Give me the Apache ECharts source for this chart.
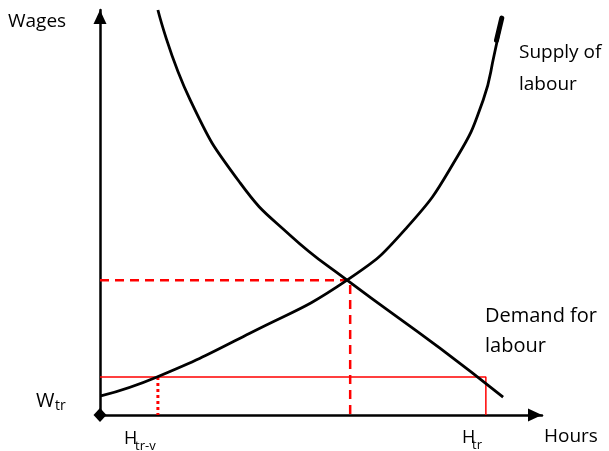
<!DOCTYPE html>
<html>
<head>
<meta charset="utf-8">
<script src="https://cdn.jsdelivr.net/npm/echarts@6/dist/echarts.min.js"></script>
<style>html,body{margin:0;padding:0;background:#fff}#c{width:609px;height:451px}</style>
</head>
<body>
<div id="c"></div>
<script>
// Data (hours on x: 0..100, wages on y: 0..100)
const supplyCurve = [[0.2,4.7],[12.9,9.4],[33.9,20.2],[55.9,33.3],[69.5,46.4],[80.8,63.7],[86.7,77.8],[89.2,89.0],[90.9,98.0]];
const supplyTop = [[89.7,92.5],[90.9,98.0]];
const demandCurve = [[13.1,100],[20.4,77.8],[31.7,57.3],[43.0,44.4],[55.9,33.3],[76.9,16.5],[91.2,4.4]];
const equilibriumWage = 33.3;
const equilibriumHours = 56.6;
const wageTr = 9.4;
const hoursTrV = 13.1;
const hoursTr = 87.3;
const axisNames = ['Hours', 'Wages'];
const curveLabels = [['Supply of', 'labour'], ['Demand for', 'labour']];
const tickLabels = [['W', 'tr'], ['H', 'tr-v'], ['H', 'tr']];

const font = '"Open Sans", "Liberation Sans", sans-serif';
function txt(x, y, text, size) {
  return { type: 'text', x: x, y: y, silent: true,
    style: { text: text, fill: '#000', font: size + 'px ' + font, align: 'left', verticalAlign: 'middle' } };
}

const chart = echarts.init(document.getElementById('c'), null, { renderer: 'canvas' });
chart.setOption({
  animation: false,
  backgroundColor: '#fff',
  grid: { left: 100, right: 67, top: 10, bottom: 36 },
  xAxis: {
    type: 'value', min: 0, max: 100,
    axisLine: { show: true, symbol: ['none', 'triangle'], symbolSize: [13, 14], symbolOffset: [0, -7],
      lineStyle: { color: '#000', width: 2.5 } },
    axisTick: { show: false }, axisLabel: { show: false }, splitLine: { show: false }
  },
  yAxis: {
    type: 'value', min: 0, max: 100,
    axisLine: { show: true, symbol: ['diamond', 'triangle'], symbolSize: [13, 14], symbolOffset: [0, -7],
      lineStyle: { color: '#000', width: 2.5 } },
    axisTick: { show: false }, axisLabel: { show: false }, splitLine: { show: false }
  },
  series: [
    { type: 'line', data: [[0, equilibriumWage], [equilibriumHours, equilibriumWage], [equilibriumHours, 0]],
      showSymbol: false, lineStyle: { color: '#ff0000', width: 2.5, type: [9, 6] }, z: 1 },
    { type: 'line', data: [[0, wageTr], [hoursTr, wageTr], [hoursTr, 0]],
      showSymbol: false, lineStyle: { color: '#ff0000', width: 1.5 }, z: 1 },
    { type: 'line', data: [[hoursTrV, wageTr], [hoursTrV, 0]],
      showSymbol: false, lineStyle: { color: '#ff0000', width: 3, type: [3, 3] }, z: 1 },
    { type: 'line', data: supplyCurve, smooth: 0.5, showSymbol: false,
      lineStyle: { color: '#000', width: 2.8 }, z: 2 },
    { type: 'line', data: supplyTop, showSymbol: false,
      lineStyle: { color: '#000', width: 5, cap: 'round' }, z: 2 },
    { type: 'line', data: demandCurve, smooth: 0.5, showSymbol: false,
      lineStyle: { color: '#000', width: 2.8 }, z: 2 }
  ],
  graphic: [
    txt(8, 22, axisNames[1], 19),
    txt(544, 437, axisNames[0], 19),
    txt(519, 53, curveLabels[0][0], 19),
    txt(519, 85, curveLabels[0][1], 19),
    txt(485, 316, curveLabels[1][0], 20),
    txt(485, 346, curveLabels[1][1], 20),
    txt(36, 401, tickLabels[0][0], 20),
    txt(55, 406, tickLabels[0][1], 14),
    txt(124, 439, tickLabels[1][0], 18),
    txt(135, 446, tickLabels[1][1], 13),
    txt(462, 438, tickLabels[2][0], 18),
    txt(472, 445, tickLabels[2][1], 13)
  ]
});
</script>
</body>
</html>
